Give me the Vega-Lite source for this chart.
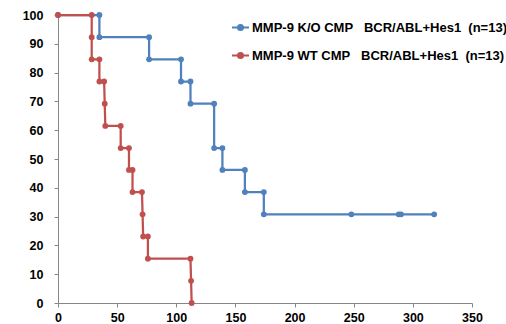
{
  "$schema": "https://vega.github.io/schema/vega-lite/v6.json",
  "width": 414,
  "height": 288,
  "autosize": {"type": "none"},
  "padding": {"left": 58, "top": 15, "right": 34, "bottom": 21},
  "background": "white",
  "config": {
    "view": {"stroke": null},
    "font": "Liberation Sans"
  },
  "data": {
    "values": [
      {"group": "MMP-9 K/O CMP\u00a0\u00a0\u00a0BCR/ABL+Hes1\u00a0\u00a0(n=13)", "i": 1, "time": 0, "survival": 100},
      {"group": "MMP-9 K/O CMP\u00a0\u00a0\u00a0BCR/ABL+Hes1\u00a0\u00a0(n=13)", "i": 2, "time": 35, "survival": 100},
      {"group": "MMP-9 K/O CMP\u00a0\u00a0\u00a0BCR/ABL+Hes1\u00a0\u00a0(n=13)", "i": 3, "time": 35, "survival": 92.3},
      {"group": "MMP-9 K/O CMP\u00a0\u00a0\u00a0BCR/ABL+Hes1\u00a0\u00a0(n=13)", "i": 4, "time": 77, "survival": 92.3},
      {"group": "MMP-9 K/O CMP\u00a0\u00a0\u00a0BCR/ABL+Hes1\u00a0\u00a0(n=13)", "i": 5, "time": 77, "survival": 84.6},
      {"group": "MMP-9 K/O CMP\u00a0\u00a0\u00a0BCR/ABL+Hes1\u00a0\u00a0(n=13)", "i": 6, "time": 104, "survival": 84.6},
      {"group": "MMP-9 K/O CMP\u00a0\u00a0\u00a0BCR/ABL+Hes1\u00a0\u00a0(n=13)", "i": 7, "time": 104, "survival": 76.9},
      {"group": "MMP-9 K/O CMP\u00a0\u00a0\u00a0BCR/ABL+Hes1\u00a0\u00a0(n=13)", "i": 8, "time": 112, "survival": 76.9},
      {"group": "MMP-9 K/O CMP\u00a0\u00a0\u00a0BCR/ABL+Hes1\u00a0\u00a0(n=13)", "i": 9, "time": 112, "survival": 69.2},
      {"group": "MMP-9 K/O CMP\u00a0\u00a0\u00a0BCR/ABL+Hes1\u00a0\u00a0(n=13)", "i": 10, "time": 132, "survival": 69.2},
      {"group": "MMP-9 K/O CMP\u00a0\u00a0\u00a0BCR/ABL+Hes1\u00a0\u00a0(n=13)", "i": 11, "time": 132, "survival": 53.8},
      {"group": "MMP-9 K/O CMP\u00a0\u00a0\u00a0BCR/ABL+Hes1\u00a0\u00a0(n=13)", "i": 12, "time": 139, "survival": 53.8},
      {"group": "MMP-9 K/O CMP\u00a0\u00a0\u00a0BCR/ABL+Hes1\u00a0\u00a0(n=13)", "i": 13, "time": 139, "survival": 46.2},
      {"group": "MMP-9 K/O CMP\u00a0\u00a0\u00a0BCR/ABL+Hes1\u00a0\u00a0(n=13)", "i": 14, "time": 158, "survival": 46.2},
      {"group": "MMP-9 K/O CMP\u00a0\u00a0\u00a0BCR/ABL+Hes1\u00a0\u00a0(n=13)", "i": 15, "time": 158, "survival": 38.5},
      {"group": "MMP-9 K/O CMP\u00a0\u00a0\u00a0BCR/ABL+Hes1\u00a0\u00a0(n=13)", "i": 16, "time": 174, "survival": 38.5},
      {"group": "MMP-9 K/O CMP\u00a0\u00a0\u00a0BCR/ABL+Hes1\u00a0\u00a0(n=13)", "i": 17, "time": 174, "survival": 30.8},
      {"group": "MMP-9 K/O CMP\u00a0\u00a0\u00a0BCR/ABL+Hes1\u00a0\u00a0(n=13)", "i": 18, "time": 248, "survival": 30.8},
      {"group": "MMP-9 K/O CMP\u00a0\u00a0\u00a0BCR/ABL+Hes1\u00a0\u00a0(n=13)", "i": 19, "time": 288, "survival": 30.8},
      {"group": "MMP-9 K/O CMP\u00a0\u00a0\u00a0BCR/ABL+Hes1\u00a0\u00a0(n=13)", "i": 20, "time": 290, "survival": 30.8},
      {"group": "MMP-9 K/O CMP\u00a0\u00a0\u00a0BCR/ABL+Hes1\u00a0\u00a0(n=13)", "i": 21, "time": 318, "survival": 30.8},
      {"group": "MMP-9 WT CMP\u00a0\u00a0\u00a0BCR/ABL+Hes1\u00a0\u00a0(n=13)", "i": 1, "time": 0, "survival": 100},
      {"group": "MMP-9 WT CMP\u00a0\u00a0\u00a0BCR/ABL+Hes1\u00a0\u00a0(n=13)", "i": 2, "time": 28.5, "survival": 100},
      {"group": "MMP-9 WT CMP\u00a0\u00a0\u00a0BCR/ABL+Hes1\u00a0\u00a0(n=13)", "i": 3, "time": 28.5, "survival": 92.3},
      {"group": "MMP-9 WT CMP\u00a0\u00a0\u00a0BCR/ABL+Hes1\u00a0\u00a0(n=13)", "i": 4, "time": 28.5, "survival": 84.6},
      {"group": "MMP-9 WT CMP\u00a0\u00a0\u00a0BCR/ABL+Hes1\u00a0\u00a0(n=13)", "i": 5, "time": 35, "survival": 84.6},
      {"group": "MMP-9 WT CMP\u00a0\u00a0\u00a0BCR/ABL+Hes1\u00a0\u00a0(n=13)", "i": 6, "time": 35, "survival": 76.9},
      {"group": "MMP-9 WT CMP\u00a0\u00a0\u00a0BCR/ABL+Hes1\u00a0\u00a0(n=13)", "i": 7, "time": 39, "survival": 76.9},
      {"group": "MMP-9 WT CMP\u00a0\u00a0\u00a0BCR/ABL+Hes1\u00a0\u00a0(n=13)", "i": 8, "time": 39.5, "survival": 69.2},
      {"group": "MMP-9 WT CMP\u00a0\u00a0\u00a0BCR/ABL+Hes1\u00a0\u00a0(n=13)", "i": 9, "time": 40, "survival": 61.5},
      {"group": "MMP-9 WT CMP\u00a0\u00a0\u00a0BCR/ABL+Hes1\u00a0\u00a0(n=13)", "i": 10, "time": 53, "survival": 61.5},
      {"group": "MMP-9 WT CMP\u00a0\u00a0\u00a0BCR/ABL+Hes1\u00a0\u00a0(n=13)", "i": 11, "time": 53, "survival": 53.8},
      {"group": "MMP-9 WT CMP\u00a0\u00a0\u00a0BCR/ABL+Hes1\u00a0\u00a0(n=13)", "i": 12, "time": 60, "survival": 53.8},
      {"group": "MMP-9 WT CMP\u00a0\u00a0\u00a0BCR/ABL+Hes1\u00a0\u00a0(n=13)", "i": 13, "time": 60, "survival": 46.2},
      {"group": "MMP-9 WT CMP\u00a0\u00a0\u00a0BCR/ABL+Hes1\u00a0\u00a0(n=13)", "i": 14, "time": 63, "survival": 46.2},
      {"group": "MMP-9 WT CMP\u00a0\u00a0\u00a0BCR/ABL+Hes1\u00a0\u00a0(n=13)", "i": 15, "time": 63, "survival": 38.5},
      {"group": "MMP-9 WT CMP\u00a0\u00a0\u00a0BCR/ABL+Hes1\u00a0\u00a0(n=13)", "i": 16, "time": 71, "survival": 38.5},
      {"group": "MMP-9 WT CMP\u00a0\u00a0\u00a0BCR/ABL+Hes1\u00a0\u00a0(n=13)", "i": 17, "time": 71.5, "survival": 30.8},
      {"group": "MMP-9 WT CMP\u00a0\u00a0\u00a0BCR/ABL+Hes1\u00a0\u00a0(n=13)", "i": 18, "time": 72, "survival": 23.1},
      {"group": "MMP-9 WT CMP\u00a0\u00a0\u00a0BCR/ABL+Hes1\u00a0\u00a0(n=13)", "i": 19, "time": 76, "survival": 23.1},
      {"group": "MMP-9 WT CMP\u00a0\u00a0\u00a0BCR/ABL+Hes1\u00a0\u00a0(n=13)", "i": 20, "time": 76, "survival": 15.4},
      {"group": "MMP-9 WT CMP\u00a0\u00a0\u00a0BCR/ABL+Hes1\u00a0\u00a0(n=13)", "i": 21, "time": 112, "survival": 15.4},
      {"group": "MMP-9 WT CMP\u00a0\u00a0\u00a0BCR/ABL+Hes1\u00a0\u00a0(n=13)", "i": 22, "time": 112.5, "survival": 7.7},
      {"group": "MMP-9 WT CMP\u00a0\u00a0\u00a0BCR/ABL+Hes1\u00a0\u00a0(n=13)", "i": 23, "time": 113, "survival": 0}
    ]
  },
  "mark": {"type": "line", "strokeWidth": 2.25, "point": {"size": 34, "filled": true, "opacity": 1}},
  "encoding": {
    "x": {
      "field": "time", "type": "quantitative",
      "scale": {"domain": [0, 350], "nice": false, "zero": true},
      "axis": {
        "title": null, "values": [0, 50, 100, 150, 200, 250, 300, 350],
        "grid": false, "domainColor": "#868686", "tickColor": "#868686",
        "tickSize": 4, "labelPadding": 4, "labelFont": "Liberation Sans",
        "labelFontSize": 12.5, "labelFontWeight": "bold", "labelColor": "#000000",
        "labelFlush": false
      }
    },
    "y": {
      "field": "survival", "type": "quantitative",
      "scale": {"domain": [0, 100], "nice": false},
      "axis": {
        "title": null, "values": [0, 10, 20, 30, 40, 50, 60, 70, 80, 90, 100],
        "grid": false, "domainColor": "#868686", "tickColor": "#868686",
        "tickSize": 4, "labelPadding": 11, "labelFont": "Liberation Sans",
        "labelFontSize": 12.5, "labelFontWeight": "bold", "labelColor": "#000000",
        "labelFlush": false
      }
    },
    "color": {
      "field": "group", "type": "nominal",
      "scale": {
        "domain": ["MMP-9 K/O CMP\u00a0\u00a0\u00a0BCR/ABL+Hes1\u00a0\u00a0(n=13)", "MMP-9 WT CMP\u00a0\u00a0\u00a0BCR/ABL+Hes1\u00a0\u00a0(n=13)"],
        "range": ["#4F81BD", "#C0504D"]
      },
      "legend": {
        "title": null, "orient": "none", "legendX": 173, "legendY": 3,
        "padding": 0, "rowPadding": 11, "labelOffset": 2,
        "symbolType": "M-1,0L1,0M-0.3,0A0.3,0.3 0 1,1 0.3,0A0.3,0.3 0 1,1 -0.3,0Z",
        "symbolSize": 289, "symbolStrokeWidth": 2,
        "labelFont": "Liberation Sans", "labelFontSize": 13, "labelFontWeight": "bold",
        "labelColor": "#000000", "labelLimit": 400,
        "encode": {"symbols": {"update": {"fill": {"scale": "color", "field": "value"}, "fillOpacity": {"value": 1}, "stroke": {"scale": "color", "field": "value"}}}}
      }
    },
    "order": {"field": "i", "type": "quantitative"}
  }
}
